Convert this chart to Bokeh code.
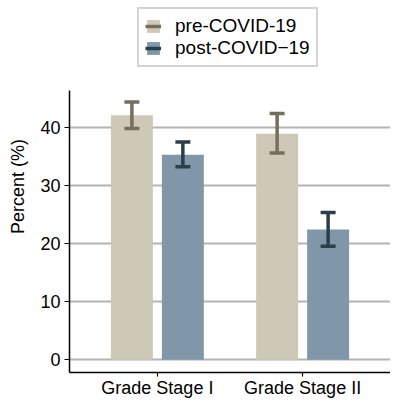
from bokeh.plotting import figure
from bokeh.models import ColumnDataSource, FactorRange, Legend, LegendItem, FixedTicker
from bokeh.transform import dodge
from bokeh.embed import file_html
from bokeh.resources import INLINE

categories = ["Grade Stage I", "Grade Stage II"]
pre_values = [42.2, 39.0]
pre_lower = [39.9, 35.7]
pre_upper = [44.5, 42.5]
post_values = [35.4, 22.5]
post_lower = [33.3, 19.6]
post_upper = [37.6, 25.4]
series_labels = ["pre-COVID-19", "post-COVID\u221219"]
y_ticks = [0, 10, 20, 30, 40]

FONT = "Liberation Sans"
PRE_FILL, PRE_LINE = "#cec9b6", "#766d5d"
POST_FILL, POST_LINE = "#7f97a8", "#2c3e4c"

Y_AXIS_MIN, Y_AXIS_MAX = -2.2, 46.5

x_range = FactorRange(factors=categories, range_padding=0.105, range_padding_units="absolute")
p = figure(width=390, height=400, x_range=x_range, y_range=(Y_AXIS_MIN, 62.0),
           output_backend="svg", toolbar_location=None,
           min_border_left=69, min_border_right=0, min_border_top=0, min_border_bottom=10)
p.outline_line_color = None
p.background_fill_color = "white"

src = ColumnDataSource(dict(cat=categories, pre=pre_values, pre_lo=pre_lower, pre_hi=pre_upper,
                            post=post_values, post_lo=post_lower, post_hi=post_upper))

off = 0.1755
bw = 0.289
r_pre = p.vbar(x=dodge("cat", -off, range=x_range), top="pre", bottom=0, width=bw, source=src,
               fill_color=PRE_FILL, line_color=None)
r_post = p.vbar(x=dodge("cat", off, range=x_range), top="post", bottom=0, width=bw, source=src,
                fill_color=POST_FILL, line_color=None)

s_pre = p.segment(x0=dodge("cat", -off, range=x_range), x1=dodge("cat", -off, range=x_range),
                  y0="pre_lo", y1="pre_hi", source=src, line_color=PRE_LINE, line_width=3.5)
s_post = p.segment(x0=dodge("cat", off, range=x_range), x1=dodge("cat", off, range=x_range),
                   y0="post_lo", y1="post_hi", source=src, line_color=POST_LINE, line_width=3.5)
for col, xo, c in [("pre_lo", -off, PRE_LINE), ("pre_hi", -off, PRE_LINE),
                   ("post_lo", off, POST_LINE), ("post_hi", off, POST_LINE)]:
    p.scatter(x=dodge("cat", xo, range=x_range), y=col, source=src, marker="dash",
              size=15, line_color=c, line_width=3.5)

# axes
p.yaxis.ticker = FixedTicker(ticks=y_ticks)
p.yaxis.bounds = (Y_AXIS_MIN, Y_AXIS_MAX)
p.yaxis.axis_label = "Percent (%)"
for ax in (p.xaxis[0], p.yaxis[0]):
    ax.axis_line_color = "black"
    ax.axis_line_width = 1.5
    ax.major_tick_line_color = "black"
    ax.major_tick_line_width = 1.2
    ax.major_tick_in = 0
    ax.minor_tick_line_color = None
    ax.major_label_text_font = FONT
    ax.major_label_text_font_size = "18px"
    ax.major_label_text_color = "black"
p.xaxis.major_tick_out = 4
p.xaxis.major_label_standoff = 1
p.yaxis.major_tick_out = 5
p.yaxis.major_label_standoff = 4
p.yaxis.axis_label_text_font = FONT
p.yaxis.axis_label_text_font_size = "18px"
p.yaxis.axis_label_text_font_style = "normal"
p.yaxis.axis_label_text_color = "black"
p.yaxis.axis_label_standoff = 9

p.xgrid.grid_line_color = None
p.ygrid.grid_line_color = "#b4b4b4"
p.ygrid.grid_line_width = 2

legend = Legend(items=[LegendItem(label=series_labels[0], renderers=[r_pre, s_pre]),
                       LegendItem(label=series_labels[1], renderers=[r_post, s_post])],
                location=(68, 305), orientation="vertical")
legend.label_text_font = FONT
legend.label_text_font_size = "19px"
legend.label_text_color = "black"
legend.glyph_width = 16
legend.glyph_height = 16
legend.label_standoff = 14
legend.spacing = 0
legend.padding = 6
legend.margin = 0
legend.border_line_color = "#aaaaaa"
legend.border_line_width = 2
legend.background_fill_alpha = 1
p.add_layout(legend, "center")

open("out.html", "w").write(file_html(p, INLINE))
